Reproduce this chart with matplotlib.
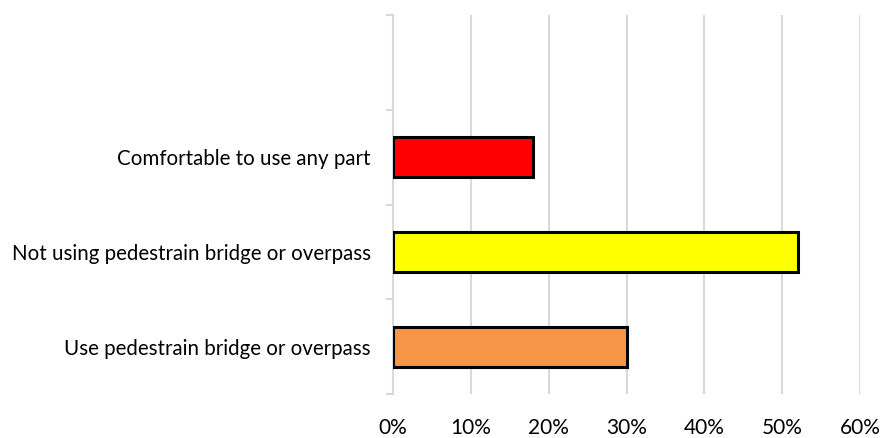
import matplotlib.pyplot as plt
import numpy as np
from matplotlib.ticker import PercentFormatter

# Data (bottom to top, top slot left empty)
categories = ['Use pedestrain bridge or overpass',
              'Not using pedestrain bridge or overpass',
              'Comfortable to use any part', '']
values = [0.30, 0.52, 0.18]
colors = ['#f79646', '#ffff00', '#ff0000']
xticks = [0, 0.1, 0.2, 0.3, 0.4, 0.5, 0.6]

plt.rcParams['font.family'] = ['Lato', 'DejaVu Sans']

fig = plt.figure(figsize=(8.82, 4.38), dpi=100)
ax = fig.add_axes([393/882, 1 - 394/438, (860-393)/882, (394-15)/438])

y = np.arange(len(values))
ax.barh(y, values, height=0.42, color=colors, edgecolor='black', linewidth=2.2, zorder=3)

ax.set_xlim(0, 0.6)
ax.set_ylim(-0.5, 3.5)
ax.set_xticks(xticks)
ax.xaxis.set_major_formatter(PercentFormatter(1.0, decimals=0))
ax.set_yticks(np.arange(len(categories)))
ax.set_yticklabels(categories)
ax.set_yticks(np.arange(-0.5, 3.6, 1.0), minor=True)

ax.grid(axis='x', color='#d9d9d9', linewidth=1.5, zorder=0)
for s in ['top', 'right', 'bottom']:
    ax.spines[s].set_visible(False)
ax.spines['left'].set_color('#d9d9d9')
ax.spines['left'].set_linewidth(1.5)

ax.tick_params(axis='x', length=0, pad=17, labelsize=15)
ax.tick_params(axis='y', which='major', length=0, pad=16, labelsize=14.8)
ax.tick_params(axis='y', which='minor', length=5, width=1.5, color='#d9d9d9')

fig.savefig('out.png', dpi=100)
